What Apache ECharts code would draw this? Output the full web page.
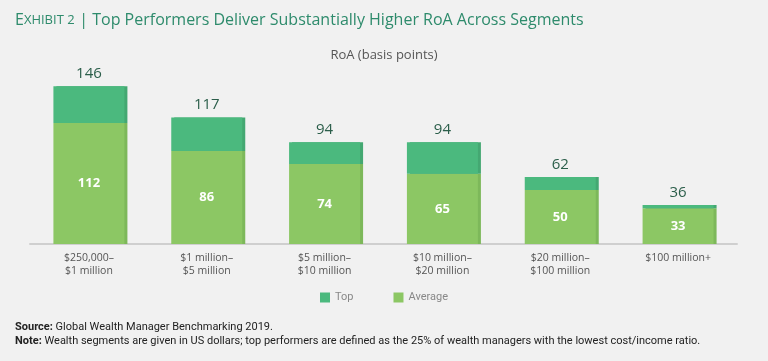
<!DOCTYPE html>
<html><head><meta charset="utf-8">
<script src="https://cdn.jsdelivr.net/npm/echarts@6/dist/echarts.min.js"></script>
<style>html,body{margin:0;padding:0;background:#f1f1f1}#c{width:768px;height:361px}</style>
</head><body><div id="c"></div>
<script>
const categories = ["$250,000–\n$1 million","$1 million–\n$5 million","$5 million–\n$10 million","$10 million–\n$20 million","$20 million–\n$100 million","$100 million+"];
const averageValues = [112, 86, 74, 65, 50, 33];
const topValues = [146, 117, 94, 94, 62, 36];
const topIncrement = topValues.map((v, i) => v - averageValues[i]);

const chart = echarts.init(document.getElementById('c'));
const font = '"Open Sans", "Noto Sans", sans-serif';
const narrow = '"Liberation Sans Narrow", "Roboto", sans-serif';
chart.setOption({
  backgroundColor: '#f1f1f1',
  animation: false,
  textStyle: { fontFamily: font },
  title: [
    { text: '{a|E}{b|XHIBIT 2} {c|| Top Performers Deliver Substantially Higher RoA Across Segments}', left: 10, top: 6,
      textStyle: { fontWeight: 'normal', rich: {
        a: { fontSize: 16, color: '#2e8b6c', fontFamily: font, fontWeight: 'normal' },
        b: { fontSize: 13, color: '#2e8b6c', fontFamily: font, fontWeight: 'normal' },
        c: { fontSize: 16, color: '#2e8b6c', fontFamily: font, fontWeight: 'normal' }
      } } },
    { text: 'RoA (basis points)', left: 'center', top: 44, textStyle: { fontSize: 13, fontWeight: 'normal', color: '#555', fontFamily: font } },
    { text: '{b|Source:} Global Wealth Manager Benchmarking 2019.\n{b|Note:} Wealth segments are given in US dollars; top performers are defined as the 25% of wealth managers with the lowest cost/income ratio.',
      left: 10, top: 315,
      textStyle: { fontSize: 11, fontWeight: 'normal', color: '#222', lineHeight: 14, fontFamily: narrow,
        rich: { b: { fontWeight: 'bold', fontSize: 11, color: '#222', fontFamily: narrow } } } }
  ],
  legend: {
    data: ['Top', 'Average'], bottom: 53, left: 'center', itemWidth: 10, itemHeight: 10, itemGap: 40,
    icon: 'rect', textStyle: { color: '#888', fontSize: 11, fontFamily: narrow }
  },
  grid: { left: 30, right: 31, top: 71, bottom: 117 },
  xAxis: {
    type: 'category', data: categories,
    axisLine: { lineStyle: { color: '#cfcfcf', width: 2 } },
    axisTick: { show: false },
    axisLabel: { color: '#555', fontSize: 10.5, lineHeight: 13, margin: 8, interval: 0 }
  },
  yAxis: { type: 'value', min: 0, max: 160, show: false },
  series: [
    { name: 'Average', type: 'bar', stack: 's', data: averageValues, barWidth: 71,
      itemStyle: { color: '#8cc764', shadowColor: '#7db85a', shadowOffsetX: 3, shadowBlur: 0 },
      label: { show: true, position: 'inside', color: '#fff', fontWeight: 'bold', fontSize: 13 } },
    { name: 'Top', type: 'bar', stack: 's', data: topIncrement, barWidth: 71,
      itemStyle: { color: '#4bb97e', shadowColor: '#44a872', shadowOffsetX: 3, shadowBlur: 0 },
      label: { show: true, position: 'top', color: '#2b5e4a', fontSize: 15, distance: 5,
        formatter: p => topValues[p.dataIndex] } }
  ]
});
</script></body></html>
